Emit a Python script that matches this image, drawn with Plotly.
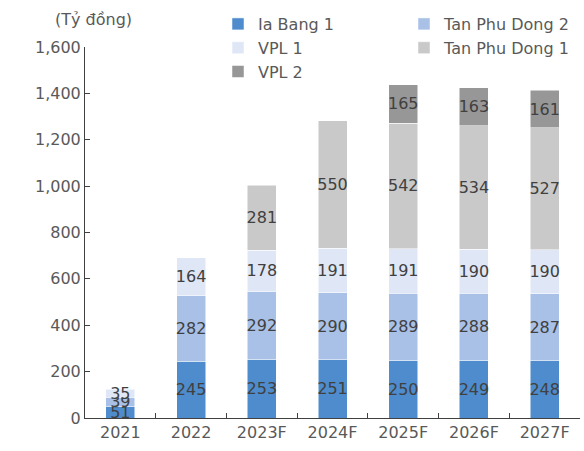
import plotly.graph_objects as go

years = ["2021", "2022", "2023F", "2024F", "2025F", "2026F", "2027F"]
ia_bang_1 = [51, 245, 253, 251, 250, 249, 248]
tan_phu_dong_2 = [39, 282, 292, 290, 289, 288, 287]
vpl_1 = [35, 164, 178, 191, 191, 190, 190]
tan_phu_dong_1 = [None, None, 281, 550, 542, 534, 527]
vpl_2 = [None, None, None, None, 165, 163, 161]

series = [
    ("Ia Bang 1", ia_bang_1, "#4e8ccd"),
    ("Tan Phu Dong 2", tan_phu_dong_2, "#a9c1e7"),
    ("VPL 1", vpl_1, "#dfe7f7"),
    ("Tan Phu Dong 1", tan_phu_dong_1, "#c9c9c9"),
    ("VPL 2", vpl_2, "#979797"),
]

FONT = "DejaVu Sans"
FS = 16
fig = go.Figure()
for name, vals, col in series:
    fig.add_trace(go.Bar(
        x=years, y=vals, name=name,
        marker=dict(color=col, line=dict(color="white", width=0.5)),
        text=[("" if v is None else str(v)) for v in vals],
        textposition="inside", insidetextanchor="middle",
        textangle=0, constraintext="none",
        textfont=dict(family=FONT, size=FS, color="#404040"),
    ))

fig.update_layout(
    barmode="stack", bargap=0.59,
    width=584, height=451,
    margin=dict(l=85, r=4, t=47, b=33, autoexpand=False),
    paper_bgcolor="white", plot_bgcolor="white",
    font=dict(family=FONT, size=FS, color="#595959"),
    showlegend=True,
    legend=dict(
        orientation="h", xref="container", yref="container",
        x=218/584, y=1-7/451, xanchor="left", yanchor="top",
        entrywidth=141, entrywidthmode="pixels", traceorder="normal",
        font=dict(family=FONT, size=FS, color="#595959"),
        bgcolor="rgba(0,0,0,0)", tracegroupgap=0,
    ),
    annotations=[dict(
        text="(Tỷ đồng)", xref="paper", yref="paper",
        x=-32/495, y=1 + 27/371, xanchor="left", yanchor="middle",
        showarrow=False, font=dict(family=FONT, size=FS, color="#595959"),
    )],
)
fig.update_xaxes(
    type="category", showline=True, linecolor="#404040", linewidth=1,
    ticks="inside", tickson="boundaries", ticklen=5, tickcolor="#404040",
    showgrid=False, tickfont=dict(family=FONT, size=FS, color="#595959"),
)
fig.update_yaxes(
    range=[0, 1600], dtick=200, tickformat=",",
    showline=True, linecolor="#404040", linewidth=1,
    ticks="inside", ticklen=5, tickcolor="#404040",
    showgrid=False, zeroline=False,
    tickfont=dict(family=FONT, size=FS, color="#595959"),
)

fig.write_html("out.html")
